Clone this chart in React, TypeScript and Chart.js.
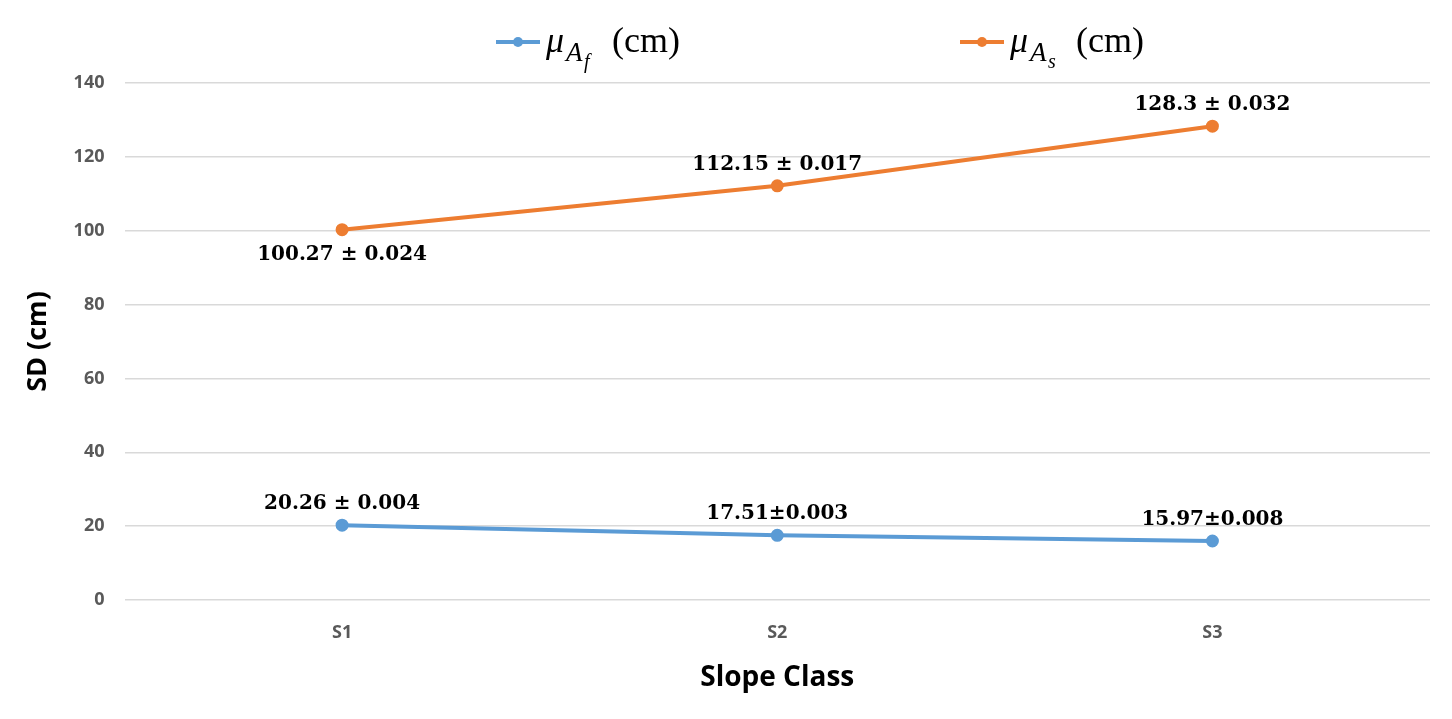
import { useEffect, useRef } from "react"
import { Chart, registerables } from "chart.js"

Chart.register(...registerables)

const categories = ["S1", "S2", "S3"]
const fineValues = [20.26, 17.51, 15.97]
const slopeValues = [100.27, 112.15, 128.3]
const fineLabels = ["20.26 ± 0.004", "17.51±0.003", "15.97±0.008"]
const slopeLabels = ["100.27 ± 0.024", "112.15 ± 0.017", "128.3 ± 0.032"]
const yTicks = [0, 20, 40, 60, 80, 100, 120, 140]

const BLUE = "#5b9bd5"
const ORANGE = "#ed7d31"

// point labels and the math legend, drawn on the canvas
const annotate = {
  id: "annotate",
  afterDatasetsDraw(chart: Chart) {
    const ctx = chart.ctx
    ctx.save()
    ctx.fillStyle = "#000"
    ctx.font = "bold 20px 'DejaVu Serif'"
    ctx.textAlign = "center"
    ctx.textBaseline = "alphabetic"
    const sets = [
      { idx: 0, labels: fineLabels, below: [false, false, false] },
      { idx: 1, labels: slopeLabels, below: [true, false, false] },
    ]
    sets.forEach((s) => {
      chart.getDatasetMeta(s.idx).data.forEach((pt, i) => {
        const y = s.below[i] ? pt.y + 30 : pt.y - 16
        ctx.fillText(s.labels[i], pt.x, y)
      })
    })

    const legendItem = (x: number, color: string, sub: string) => {
      const y = 42
      ctx.strokeStyle = color
      ctx.lineWidth = 4
      ctx.beginPath()
      ctx.moveTo(x, y)
      ctx.lineTo(x + 44, y)
      ctx.stroke()
      ctx.fillStyle = color
      ctx.beginPath()
      ctx.arc(x + 22, y, 5, 0, Math.PI * 2)
      ctx.fill()
      ctx.fillStyle = "#000"
      ctx.textAlign = "left"
      ctx.font = "italic 36px 'Liberation Serif'"
      ctx.fillText("μ", x + 50, 52)
      ctx.font = "italic 27px 'Liberation Serif'"
      ctx.fillText("A", x + 70, 61)
      ctx.font = "italic 20px 'Liberation Serif'"
      ctx.fillText(sub, x + 88, 68)
      ctx.font = "36px 'Liberation Serif'"
      ctx.fillText("(cm)", x + 116, 52)
    }
    legendItem(496, BLUE, "f")
    legendItem(960, ORANGE, "s")
    ctx.restore()
  },
}

export default function App() {
  const ref = useRef<HTMLCanvasElement>(null)
  const inst = useRef<Chart | null>(null)

  useEffect(() => {
    document.body.style.margin = "0"
    if (!ref.current) return
    inst.current?.destroy()
    inst.current = new Chart(ref.current, {
      type: "line",
      data: {
        labels: categories,
        datasets: [
          {
            data: fineValues,
            borderColor: BLUE,
            backgroundColor: BLUE,
            borderWidth: 4,
            pointRadius: 4.5,
          },
          {
            data: slopeValues,
            borderColor: ORANGE,
            backgroundColor: ORANGE,
            borderWidth: 4,
            pointRadius: 4.5,
          },
        ],
      },
      options: {
        responsive: false,
        animation: false,
        layout: { padding: { top: 83, right: 22, left: 0, bottom: 0 } },
        plugins: { legend: { display: false }, tooltip: { enabled: false } },
        scales: {
          x: {
            offset: true,
            grid: { display: false },
            border: { display: false },
            ticks: { color: "#595959", font: { family: "'Open Sans'", size: 18, weight: "bold" }, padding: 14 },
            title: {
              display: true,
              text: "Slope Class",
              color: "#000",
              font: { family: "'Open Sans'", size: 28, weight: "bold" },
              padding: { top: 0, bottom: 24 },
            },
            afterFit: (s: any) => { s.height = 119 },
          },
          y: {
            min: 0,
            max: 140,
            afterBuildTicks: (s: any) => { s.ticks = yTicks.map((v) => ({ value: v })) },
            grid: { color: "#d9d9d9", lineWidth: 1.5, drawTicks: false },
            border: { display: false },
            ticks: { color: "#595959", font: { family: "'Open Sans'", size: 18, weight: "bold" }, padding: 20 },
            title: {
              display: true,
              text: "SD (cm)",
              color: "#000",
              font: { family: "'Open Sans'", size: 27, weight: "bold" },
              padding: { top: 22, bottom: 0 },
            },
            afterFit: (s: any) => { s.width = 124.5 },
          },
        },
      },
      plugins: [annotate],
    })
    return () => { inst.current?.destroy() }
  }, [])

  return <canvas ref={ref} width={1452} height={719} style={{ display: "block" }} />
}
